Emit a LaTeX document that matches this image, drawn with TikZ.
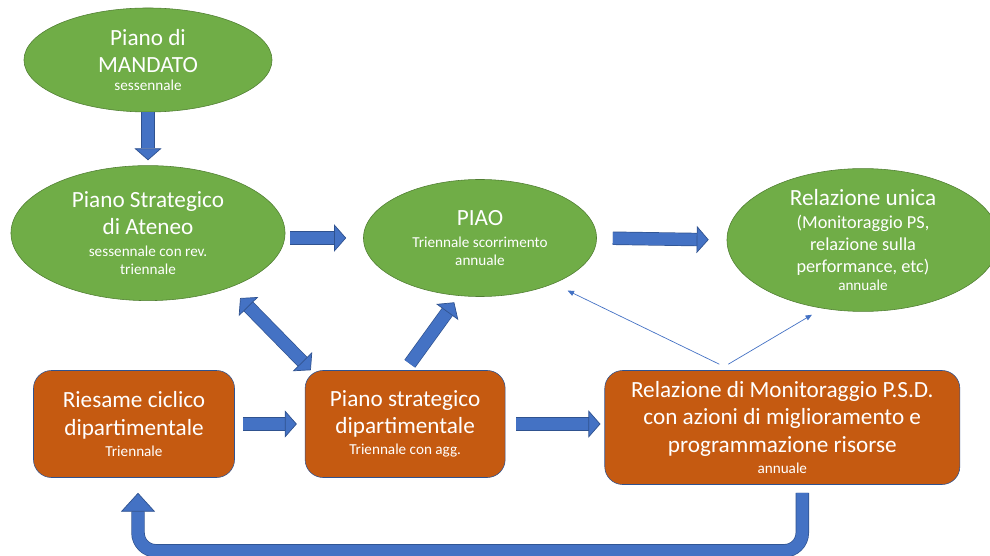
\documentclass[tikz,border=0pt]{standalone}
\usepackage{fontspec}
\setmainfont{Carlito}
\usepackage{tikz}
\usetikzlibrary{arrows.meta, positioning, shapes.geometric}

\definecolor{goalgreen}{HTML}{70AD47}
\definecolor{goaledge}{HTML}{507E32}
\definecolor{deptorange}{HTML}{C55A11}
\definecolor{deptedge}{HTML}{2F528F}
\definecolor{arrowfill}{HTML}{4472C4}
\definecolor{arrowedge}{HTML}{2F528F}

\newcommand{\subtext}[1]{{\fontsize{10.8}{13}\selectfont #1}}
\newcommand{\midtext}[1]{{\fontsize{13}{15.5}\selectfont #1}}

\tikzset{fathead/.tip={Triangle[length=0.3cm, width=0.68cm, fill=arrowfill, line width=0.5pt]},
    bighead/.tip={Triangle[length=0.47cm, width=0.85cm, fill=arrowfill, line width=0.5pt]}}

\begin{document}
\begin{tikzpicture}[x=0.025cm, y=-0.025cm]

        % Define style
        \tikzstyle{goal} = [ellipse, draw=goaledge, fill=goalgreen, text=white, align=center, inner sep=0pt, font=\fontsize{16.5}{19.5}\selectfont]
        \tikzstyle{deptblock} = [rectangle, rounded corners=0.45cm, draw=deptedge, fill=deptorange, text=white, align=center, inner sep=0pt, font=\fontsize{16.5}{19.5}\selectfont]
        \tikzstyle{fatarrow} = [draw=arrowedge, line width=0.5pt, double=arrowfill, double distance=0.3cm, -fathead]
        \tikzstyle{thinarrow} = [draw=arrowfill, line width=0.5pt, -{Triangle[length=0.16cm, width=0.13cm]}]

        \clip (0,0) rectangle (990,556);

        % Ellipses (top)
        \node[goal, minimum width=6.2cm, minimum height=2.6cm] (mandato) at (148,60) {Piano di\\MANDATO\\[-6.5pt]\subtext{sessennale}};
        \node[goal, minimum width=6.85cm, minimum height=3.375cm, below=1.325cm of mandato] (ateneo) {Piano Strategico\\di Ateneo\\[-4pt]\subtext{sessennale con rev.}\\[-6.7pt]\subtext{triennale}};
        \node[goal, minimum width=5.825cm, minimum height=2.925cm] (piao) at (480,238) {PIAO\\[-4.5pt]\subtext{Triennale scorrimento}\\[-6.7pt]\subtext{annuale}};
        \node[goal, minimum width=6.8cm, minimum height=3.125cm] (relunica) at (863,240) {Relazione unica\\[-3pt]\midtext{(Monitoraggio PS,}\\[-4pt]\midtext{relazione sulla}\\[-4pt]\midtext{performance, etc)}\\[-6.7pt]\subtext{annuale}};

        % Department blocks (bottom)
        \node[deptblock, minimum width=5.025cm, minimum height=2.675cm] (riesame) at (134,424) {Riesame ciclico\\dipartimentale\\[-4.5pt]\subtext{Triennale}};
        \node[deptblock, minimum width=5cm, minimum height=2.675cm, right=1.75cm of riesame] (psd) {Piano strategico\\dipartimentale\\[-4.5pt]\subtext{Triennale con agg.}};
        \node[deptblock, minimum width=8.875cm, minimum height=2.85cm, anchor=north west] (relmon) at ([xshift=2.475cm]psd.north east) {Relazione di Monitoraggio P.S.D.\\con azioni di miglioramento e\\programmazione risorse\\[-4pt]\subtext{annuale}};

        % Block arrows
        \draw[fatarrow, shorten >=0.125cm] (mandato.south) -- (mandato.south |- ateneo.north);
        \draw[fatarrow, shorten <=0.125cm, shorten >=0.425cm] (ateneo.east |- piao.west) -- (piao.west);
        \draw[fatarrow, shorten <=0.4cm, shorten >=0.45cm] (piao.east) -- (relunica.west);
        \draw[fatarrow, shorten <=0.2cm, shorten >=0.2cm] (riesame.east) -- (psd.west);
        \draw[fatarrow, shorten <=0.275cm, shorten >=0.1cm] (psd.east) -- (psd.east -| relmon.west);
        \draw[fatarrow, shorten <=0.2cm, shorten >=0.2cm] (psd.north) -- (piao.250);
        \draw[fatarrow, fathead-fathead] ([shift={(-5,17)}]ateneo.south east) -- ([xshift=0.15cm]psd.north west);

        % Loop back to the review
        \draw[fatarrow, rounded corners=0.45cm, -bighead] ([shift={(20,8)}]relmon.south) -- ++(0,58) -| ([shift={(4,15)}]riesame.south);

        % Thin links
        \draw[thinarrow] ([shift={(-63,-6)}]relmon.north) -- ([shift={(5,11)}]piao.south east);
        \draw[thinarrow] ([shift={(-54,-6)}]relmon.north) -- ([shift={(-51,3)}]relunica.south);

    \end{tikzpicture}
\end{document}
